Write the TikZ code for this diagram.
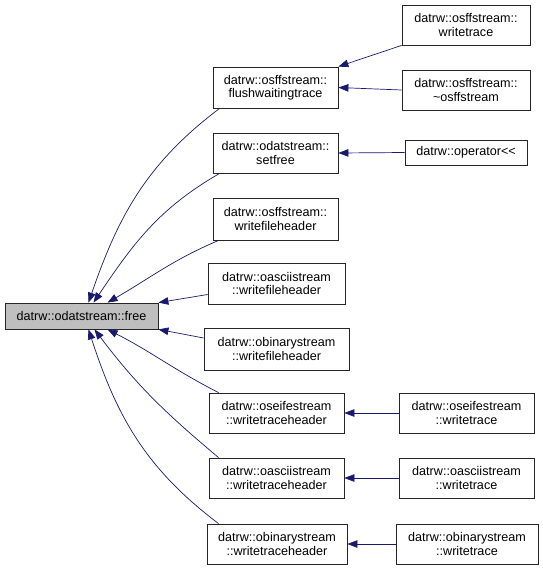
\documentclass[tikz,border=0pt]{standalone}
\usepackage{fontspec}
\setmainfont{Liberation Sans}
\usepackage{tikz}
\usetikzlibrary{arrows.meta,calc}
\definecolor{edgeblue}{HTML}{191970}
\definecolor{rootgray}{HTML}{BFBFBF}
\tikzset{
  fn/.style={draw=black!85, line width=0.8pt, rectangle, inner sep=0pt, align=center,
    minimum height=40pt, font=\fontsize{12.6}{13.5}\selectfont},
  callee/.style={fn, fill=rootgray, minimum height=26pt},
  edge/.style={draw=edgeblue, line width=0.7pt, -{Triangle[length=10pt,width=7.5pt]}}
}
\begin{document}
\begin{tikzpicture}[x=1pt,y=-1pt]
  \useasboundingbox (0,0) rectangle (543,571);

  \node[callee, minimum width=153pt] (free) at (81.5,316) {datrw::odatstream::free};

  \node[fn, minimum width=125pt, minimum height=41pt] (flush) at (275.5,87.5) {datrw::osffstream::\\flushwaitingtrace};
  \node[fn, minimum width=125pt] (setfree) at (275.5,153) {datrw::odatstream::\\setfree};
  \node[fn, minimum width=125pt, minimum height=42pt] (osffwfh) at (275.5,219) {datrw::osffstream::\\writefileheader};
  \node[fn, minimum width=137pt, minimum height=41pt] (asciiwfh) at (276.5,283.5) {datrw::oasciistream\\::writefileheader};
  \node[fn, minimum width=145pt, minimum height=42pt] (binwfh) at (276.5,349) {datrw::obinarystream\\::writefileheader};
  \node[fn, minimum width=135pt] (seifewth) at (276.5,413) {datrw::oseifestream\\::writetraceheader};
  \node[fn, minimum width=135pt] (asciiwth) at (276.5,478) {datrw::oasciistream\\::writetraceheader};
  \node[fn, minimum width=140pt] (binwth) at (277,544) {datrw::obinarystream\\::writetraceheader};

  \node[fn, minimum width=128pt] (osffwt) at (466,25) {datrw::osffstream::\\writetrace};
  \node[fn, minimum width=128pt] (osffdtor) at (466,90) {datrw::osffstream::\\\textasciitilde osffstream};
  \node[fn, minimum width=122pt, minimum height=25pt] (oper) at (466,152.5) {datrw::operator<{}<};
  \node[fn, minimum width=135pt] (seifewt) at (466.5,413) {datrw::oseifestream\\::writetrace};
  \node[fn, minimum width=135pt] (asciiwt) at (466.5,478) {datrw::oasciistream\\::writetrace};
  \node[fn, minimum width=142pt] (binwt) at (467,544) {datrw::obinarystream\\::writetrace};

  \draw[edge] (osffwt.south west) -- (flush.north east);
  \draw[edge] (osffdtor.west) -- (flush.east);
  \draw[edge] (oper.west) -- (setfree.east);
  \draw[edge] (seifewt) -- (seifewth);
  \draw[edge] (asciiwt) -- (asciiwth);
  \draw[edge] (binwt) -- (binwth);

  \draw[edge] ([xshift=7pt]flush.south west) to[out=217, in=71] ([xshift=7pt]free.north);
  \draw[edge] ([xshift=7pt]setfree.south west) to[out=210, in=56] ([xshift=12pt]free.north);
  \draw[edge] ([xshift=6pt]osffwfh.south west) to[out=203, in=30] ([xshift=26pt]free.north);
  \draw[edge] ([yshift=-11pt]asciiwfh.west) -- (free.north east);
  \draw[edge] ([yshift=11pt]binwfh.west) -- (free.south east);
  \draw[edge] ([xshift=10pt]seifewth.north west) to[out=153, in=333] ([xshift=26pt]free.south);
  \draw[edge] ([xshift=10pt]asciiwth.north west) to[out=140, in=307] ([xshift=13pt]free.south);
  \draw[edge] ([xshift=12pt]binwth.north west) to[out=143, in=288] ([xshift=7pt]free.south);
\end{tikzpicture}
\end{document}
